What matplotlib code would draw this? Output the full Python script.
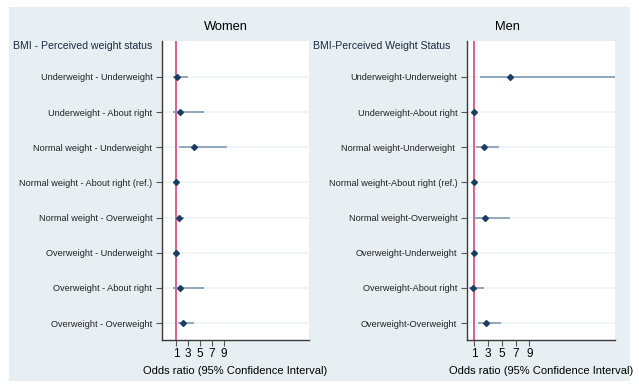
import matplotlib
matplotlib.use('Agg')
import matplotlib.pyplot as plt
from matplotlib.patches import Rectangle

plt.rcParams['font.family'] = ['Liberation Sans', 'DejaVu Sans']

# ---- data ----
labels_women = ['Underweight - Underweight', 'Underweight - About right',
                'Normal weight - Underweight', 'Normal weight - About right (ref.)',
                'Normal weight - Overweight', 'Overweight - Underweight',
                'Overweight - About right', 'Overweight - Overweight']
or_women = [1.1, 1.7, 4.0, 1.0, 1.5, 0.95, 1.7, 2.2]
lo_women = [0.5, 0.5, 1.5, 1.0, 0.9, 0.8, 0.5, 1.3]
hi_women = [3.0, 5.7, 9.5, 1.0, 2.4, 1.1, 5.6, 4.0]

labels_men = ['Underweight-Underweight', 'Underweight-About right',
              'Normal weight-Underweight ', 'Normal weight-About right (ref.)',
              'Normal weight-Overweight', 'Overweight-Underweight',
              'Overweight-About right', 'Overweight-Overweight']
or_men = [6.2, 1.0, 2.4, 1.0, 2.6, 1.0, 0.8, 2.7]
lo_men = [1.8, 0.9, 1.25, 1.0, 1.0, 0.9, 0.3, 1.5]
hi_men = [25.0, 1.1, 4.6, 1.0, 6.2, 1.1, 2.4, 4.8]

xticks = [1, 3, 5, 7, 9]

BG = '#e8eff2'
CI_COL = '#8aa1b9'
PT_COL = '#1c3d63'
REF_COL = '#d6336b'
SPINE = '#3a3a3a'

fig = plt.figure(figsize=(6.39, 3.90), dpi=100)
fig.patches.append(Rectangle((9 / 639, 1 - 381 / 390), 621 / 639, 374 / 390,
                             transform=fig.transFigure, facecolor=BG,
                             edgecolor='none', zorder=-10))


def panel(rect, labels, est, lo, hi, xlim, title, title_x, header):
    ax = fig.add_axes(rect)
    ax.set_facecolor('white')
    rows = list(range(1, len(labels) + 1))
    for r in rows:
        ax.axhline(r, color='#eef3f5', lw=1.2, zorder=0)
    ax.axvline(1, color=REF_COL, lw=1.1, zorder=1)
    ax.hlines(rows, lo, hi, color=CI_COL, lw=1.3, zorder=2)
    ax.plot(est, rows, 'D', color=PT_COL, ms=3.0, zorder=3, clip_on=False)
    ax.set_xlim(*xlim)
    ax.set_ylim(8.48, -0.02)
    ax.set_yticks(rows)
    ax.set_yticklabels(labels, fontsize=6.6, color='#222222')
    ax.set_xticks(xticks)
    ax.set_xticklabels([str(t) for t in xticks], fontsize=8.5)
    ax.tick_params(axis='y', length=4, width=0.8, color='#555555', pad=3)
    ax.tick_params(axis='x', length=4, width=0.8, color='#555555', pad=2)
    for s in ['top', 'right']:
        ax.spines[s].set_visible(False)
    for s in ['left', 'bottom']:
        ax.spines[s].set_color(SPINE)
        ax.spines[s].set_linewidth(1.0)
    ax.set_xlabel('Odds ratio (95% Confidence Interval)', fontsize=8, labelpad=4)
    fig.text(title_x / 639, 1 - 27 / 390, title, ha='center', va='center', fontsize=9.3)
    fig.text(header[0] / 639, 1 - 46 / 390, header[1], ha='left', va='center',
             fontsize=7.6, color='#1a2a44')
    return ax


panel([162 / 639, 1 - 340 / 390, 147 / 639, 299 / 390],
      labels_women, or_women, lo_women, hi_women, (-1.33, 23.2),
      'Women', 226, (13, 'BMI - Perceived weight status'))
panel([467 / 639, 1 - 340 / 390, 148 / 639, 299 / 390],
      labels_men, or_men, lo_men, hi_men, (-0.06, 21.4),
      'Men', 507, (313, 'BMI-Perceived Weight Status'))

fig.savefig('out.png', dpi=100, facecolor='white')
